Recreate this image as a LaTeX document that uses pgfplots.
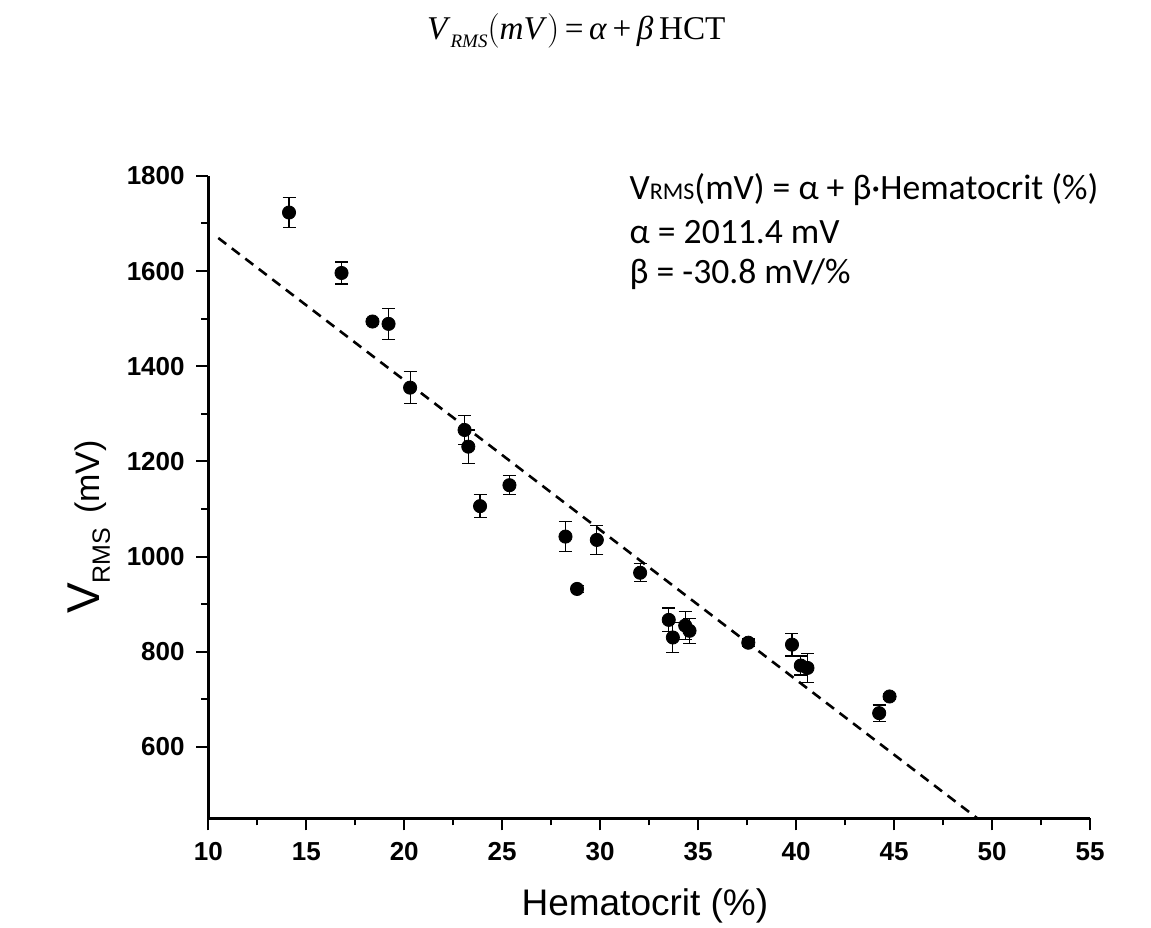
\documentclass[border=0pt]{standalone}
\usepackage{fontspec}
\setmainfont{Liberation Sans}
\newfontfamily\calib{Carlito}
\newfontfamily\tnr{Liberation Serif}
\usepackage{pgfplots}
\pgfplotsset{compat=1.18}
\usepackage{pgfplotstable}

% x, y (mV), y error (mV)
\pgfplotstableread{
x      y     e
14.12  1723  31
16.80  1596  23
18.38  1494  6
19.20  1489  33
20.30  1355  34
23.08  1266  31
23.27  1231  35
23.87  1106  24
25.37  1150  20
28.23  1042  32
29.83  1035  30
28.82  932   8
32.04  966   19
33.50  867   25
33.71  830   31
34.34  855   30
34.56  844   26
37.56  819   8
39.79  815   24
40.24  771   20
40.58  766   30
44.24  671   17
44.77  706   6
}\hct

\begin{document}
\begin{tikzpicture}
\useasboundingbox (-104.15pt,-54.35pt) rectangle (471.35pt,409.15pt);
\begin{axis}[
    width=440.85pt, height=321.2pt,
    scale only axis,
    xmin=10, xmax=55, ymin=450, ymax=1800,
    enlargelimits=false,
    axis lines=left,
    axis line style={-, line width=1.3pt},
    tick align=outside,
    major tick length=6pt,
    minor tick length=3.5pt,
    every tick/.style={black, line width=1pt},
    xtick={10,15,...,55},
    ytick={600,800,...,1800},
    minor x tick num=1,
    minor y tick num=1,
    /pgf/number format/1000 sep={},
    /pgf/number format/assume math mode=true,
    ticklabel style={font=\bfseries\fontsize{13}{13}\selectfont},
    xticklabel style={anchor=base, yshift=-14.85pt},
    yticklabel style={anchor=east, inner sep=0pt, xshift=-5.65pt},
    clip=true,
]
\addplot[black, line width=1.3pt, dash pattern=on 5pt off 3.5pt]
    coordinates {(10.51,1669.5) (49.25,450)};
\addplot[only marks, mark=*, mark size=3.3pt, black,
    error bars/.cd, y dir=both, y explicit,
    error bar style={line width=0.6pt, black},
    error mark options={rotate=90, line width=0.6pt, mark size=3.25pt, black}]
    table[x=x, y=y, y error=e] {\hct};
\end{axis}

% y label
\node[rotate=90, anchor=base, inner sep=0pt] at (-54.15pt,145.65pt)
  {{\fontsize{23}{23}\selectfont V}\raisebox{-5pt}{\fontsize{12.5}{12.5}\selectfont RMS}\hspace{7pt}{\fontsize{17}{17}\selectfont (mV)}};
% x label
\node[anchor=base, inner sep=0pt] at (218.3pt,-48.35pt)
  {\fontsize{18.5}{18.5}\selectfont Hematocrit (\%)};

% title formula
\node[anchor=base west, inner sep=0pt] at (109.2pt,389.15pt)
  {\tnr\fontsize{16.6}{20}\selectfont \textit{V}\raisebox{-4pt}{\fontsize{9.5}{9.5}\selectfont\itshape RMS}$\Bigl($\textit{mV}$\Bigr)$\,=\,\textit{α}\,+\,\textit{β}\,HCT};

% annotation
\node[anchor=base west, inner sep=0pt] at (210.5pt,309.2pt)
  {\calib\fontsize{17.8}{21}\selectfont V{\fontsize{12}{12}\selectfont RMS}(mV) = α + β·Hematocrit (\%)};
\node[anchor=base west, inner sep=0pt] at (210.5pt,287.5pt)
  {\calib\fontsize{17.8}{21}\selectfont α = 2011.4 mV};
\node[anchor=base west, inner sep=0pt] at (210.5pt,267.5pt)
  {\calib\fontsize{17.8}{21}\selectfont β = -30.8 mV/\%};
\end{tikzpicture}
\end{document}
